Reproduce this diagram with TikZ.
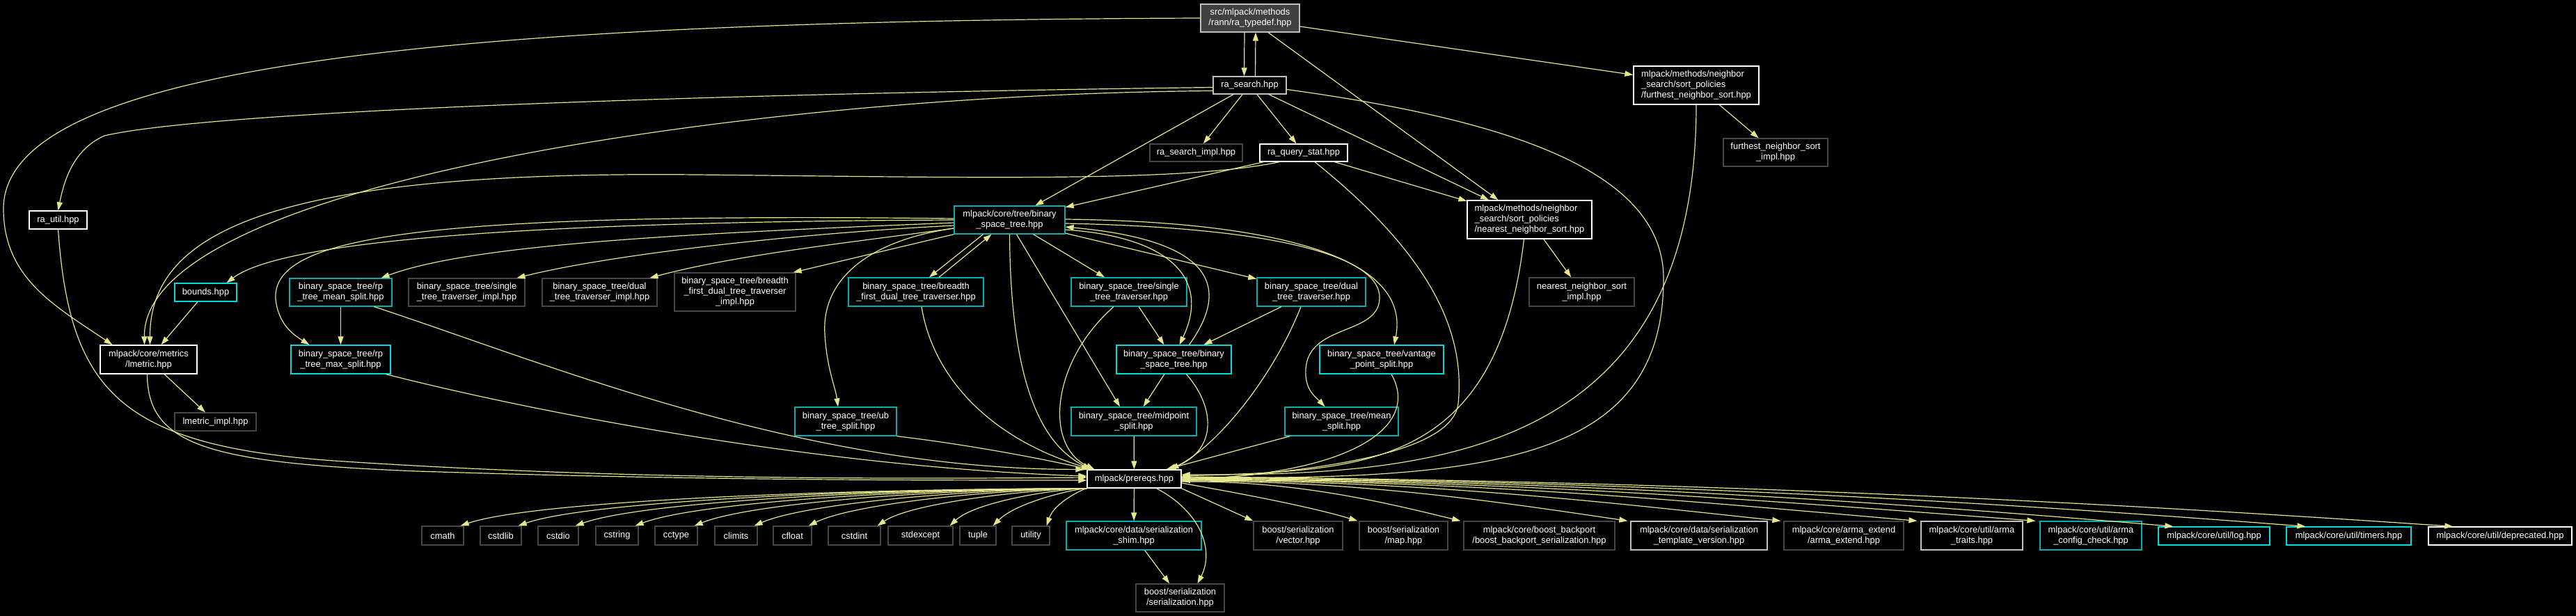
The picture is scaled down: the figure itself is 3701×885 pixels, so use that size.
\documentclass[tikz,border=0pt]{standalone}
\usepackage{fontspec}
\setmainfont{Liberation Sans}
\usepackage{tikz}
\usetikzlibrary{arrows.meta}
\definecolor{edgeyel}{RGB}{230,230,140}
\definecolor{rootgray}{RGB}{64,64,64}
\definecolor{lightedge}{RGB}{191,191,191}
\definecolor{sysgray}{RGB}{70,70,70}
\definecolor{tealedge}{RGB}{0,176,176}
\definecolor{cyanedge}{RGB}{0,220,220}
\newcommand\doxyfont{\fontsize{12.9}{15}\selectfont}
\tikzset{
  hdr/.style      = {draw, line width=1.3pt, fill=black, text=white, align=center, inner sep=0pt, font=\doxyfont},
  dochdr/.style   = {hdr, draw=white},
  lighthdr/.style = {hdr, draw=lightedge},
  syshdr/.style   = {hdr, draw=sysgray},
  tealhdr/.style  = {hdr, draw=tealedge},
  cyanhdr/.style  = {hdr, draw=cyanedge},
  roothdr/.style  = {hdr, draw=lightedge, fill=rootgray},
  sz/.style 2 args = {minimum width=#1pt, minimum height=#2pt},
  dep/.style      = {-{Triangle[length=12pt,width=8pt]}, line width=1.2pt, draw=edgeyel},
}

\begin{document}
\begin{tikzpicture}[x=1pt,y=-1pt]
  \fill[black] (0,0) rectangle (3701,885);
  \useasboundingbox (0,0) rectangle (3701,885);

  % top part
  \node[roothdr, sz={142}{40}] (typedef) at (1796,26) {src/mlpack/methods\\/rann/ra\_typedef.hpp};
  \node[lighthdr, sz={105}{25}] (rasearch) at (1795.5,122.5) {ra\_search.hpp};
  \node[dochdr, sz={180}{55}, align=left] (furthest) at (2437,122.5) {mlpack/methods/neighbor\\\_search/sort\_policies\\/furthest\_neighbor\_sort.hpp};
  \node[syshdr, sz={133}{25}] (rasearchimpl) at (1718.5,219.5) {ra\_search\_impl.hpp};
  \node[dochdr, sz={126}{25}] (raquerystat) at (1873,219.5) {ra\_query\_stat.hpp};
  \node[syshdr, sz={150}{40}] (furthestimpl) at (2551,219) {furthest\_neighbor\_sort\\\_impl.hpp};
  \node[dochdr, sz={83}{26}] (rautil) at (83.5,316) {ra\_util.hpp};
  \node[tealhdr, sz={159}{40}] (bst) at (1450.5,316) {mlpack/core/tree/binary\\\_space\_tree.hpp};
  \node[dochdr, sz={179}{55}, align=left] (nearest) at (2197.5,315.5) {mlpack/methods/neighbor\\\_search/sort\_policies\\/nearest\_neighbor\_sort.hpp};
  \node[syshdr, sz={151}{41}] (nearestimpl) at (2272.5,419.5) {nearest\_neighbor\_sort\\\_impl.hpp};

  % tree row
  \node[cyanhdr, sz={89}{26}] (bounds) at (295.5,420) {bounds.hpp};
  \node[tealhdr, sz={147}{40}] (rpmean) at (489.5,420) {binary\_space\_tree/rp\\\_tree\_mean\_split.hpp};
  \node[syshdr, sz={167}{40}] (stimpl) at (670.5,420) {binary\_space\_tree/single\\\_tree\_traverser\_impl.hpp};
  \node[syshdr, sz={165}{40}] (dtimpl) at (861.5,420) {binary\_space\_tree/dual\\\_tree\_traverser\_impl.hpp};
  \node[syshdr, sz={174}{55}] (bfimpl) at (1056,419.5) {binary\_space\_tree/breadth\\\_first\_dual\_tree\_traverser\\\_impl.hpp};
  \node[tealhdr, sz={194}{41}] (bft) at (1316,419.5) {binary\_space\_tree/breadth\\\_first\_dual\_tree\_traverser.hpp};
  \node[tealhdr, sz={166}{41}] (stt) at (1622,419.5) {binary\_space\_tree/single\\\_tree\_traverser.hpp};
  \node[tealhdr, sz={156}{41}] (dtt) at (1884,419.5) {binary\_space\_tree/dual\\\_tree\_traverser.hpp};
  \node[dochdr, sz={139}{41}] (lmetric) at (213.5,516.5) {mlpack/core/metrics\\/lmetric.hpp};
  \node[cyanhdr, sz={143}{41}] (rpmax) at (489.5,516.5) {binary\_space\_tree/rp\\\_tree\_max\_split.hpp};
  \node[cyanhdr, sz={165}{41}] (bstb) at (1686.5,516.5) {binary\_space\_tree/binary\\\_space\_tree.hpp};
  \node[cyanhdr, sz={178}{41}] (vps) at (1985,516.5) {binary\_space\_tree/vantage\\\_point\_split.hpp};
  \node[syshdr, sz={117}{26}] (lmimpl) at (309.5,606) {lmetric\_impl.hpp};
  \node[tealhdr, sz={146}{41}] (ubsplit) at (1215,605.5) {binary\_space\_tree/ub\\\_tree\_split.hpp};
  \node[tealhdr, sz={180}{41}] (midsplit) at (1629,605.5) {binary\_space\_tree/midpoint\\\_split.hpp};
  \node[tealhdr, sz={163}{41}] (meansplit) at (1927.5,605.5) {binary\_space\_tree/mean\\\_split.hpp};
  \node[dochdr, sz={135}{26}] (prereqs) at (1629.5,688) {mlpack/prereqs.hpp};

  % bottom row
  \foreach \n/\x/\w in {cmath/636/60, cstdlib/719.5/59, cstdio/802/58, cstring/886.5/61, cctype/971.5/61, climits/1057.5/61, cfloat/1138.5/55, cstdint/1227.5/75, stdexcept/1322.5/93, tuple/1405/52, utility/1481/54}
    \node[syshdr, sz={\w}{27}] (\n) at (\x,769.5) {\n};
  \node[tealhdr, sz={194}{41}] (shim) at (1629,769.5) {mlpack/core/data/serialization\\\_shim.hpp};
  \node[syshdr, sz={128}{41}] (bvector) at (1865,769.5) {boost/serialization\\/vector.hpp};
  \node[syshdr, sz={127}{40}] (bser) at (1695.5,859) {boost/serialization\\/serialization.hpp};
  \node[syshdr, sz={127}{41}] (bmap) at (2016.5,769.5) {boost/serialization\\/map.hpp};
  \node[syshdr, sz={217}{41}] (backport) at (2211.5,769.5) {mlpack/core/boost\_backport\\/boost\_backport\_serialization.hpp};
  \node[lighthdr, sz={196}{41}] (stversion) at (2441,769.5) {mlpack/core/data/serialization\\\_template\_version.hpp};
  \node[syshdr, sz={172}{41}] (armaext) at (2649,769.5) {mlpack/core/arma\_extend\\/arma\_extend.hpp};
  \node[lighthdr, sz={146}{41}] (armatraits) at (2833,769.5) {mlpack/core/util/arma\\\_traits.hpp};
  \node[tealhdr, sz={146}{41}] (armacfg) at (3004,769.5) {mlpack/core/util/arma\\\_config\_check.hpp};
  \node[cyanhdr, sz={160}{26}] (logh) at (3181,770) {mlpack/core/util/log.hpp};
  \node[cyanhdr, sz={179}{26}] (timers) at (3374.5,770) {mlpack/core/util/timers.hpp};
  \node[dochdr, sz={206}{26}] (deprecated) at (3592,770) {mlpack/core/util/deprecated.hpp};

  % ra_typedef.hpp
  \draw[dep] ([xshift=-8pt]typedef.south) -- ([xshift=-8pt]rasearch.north);
  \draw[dep] ([xshift=8pt]rasearch.north) -- ([xshift=8pt]typedef.south);
  \draw[dep] (typedef.west) .. controls (600,30) and (5,100) .. (5,300) .. controls (5,400) and (80,440) .. ([xshift=-52pt]lmetric.north);
  \draw[dep] ([yshift=-12pt]typedef.east) -- ([yshift=15pt]furthest.west);
  \draw[dep] ([xshift=26pt]typedef.south) -- ([xshift=-45pt]nearest.north);

  % ra_search.hpp
  \draw[dep] ([yshift=-3pt]rasearch.west) .. controls (1000,135) and (300,160) .. (150,195) .. controls (105,215) and (92,260) .. (rautil.north);
  \draw[dep] ([yshift=-8pt]rasearch.west) .. controls (1100,135) and (205,260) .. ([xshift=-6pt]lmetric.north);
  \draw[dep] (rasearch) -- (rasearchimpl);
  \draw[dep] (rasearch) -- (raquerystat);
  \draw[dep] (rasearch) -- (bst);
  \draw[dep] (rasearch) -- (nearest);
  \draw[dep] ([yshift=-6pt]rasearch.east) .. controls (2150,170) and (2390,240) .. (2390,400) .. controls (2390,660) and (2150,690) .. ([yshift=2pt]prereqs.east);

  % ra_query_stat.hpp
  \draw[dep] ([xshift=-35pt]raquerystat.south) .. controls (1700,262) and (1400,255) .. (1000,251) .. controls (400,245) and (215,330) .. ([xshift=2pt]lmetric.north);
  \draw[dep] (raquerystat) -- (bst);
  \draw[dep] (raquerystat) -- (nearest);
  \draw[dep] ([xshift=16pt]raquerystat.south) .. controls (2060,370) and (2105,480) .. (2095,580) .. controls (2085,660) and (1850,678) .. ([yshift=-3pt]prereqs.east);

  % sort policies
  \draw[dep] (nearest) -- (nearestimpl);
  \draw[dep] ([xshift=-8pt]nearest.south) .. controls (2150,680) and (1950,675) .. ([yshift=4pt]prereqs.east);
  \draw[dep] (furthest) -- (furthestimpl);
  \draw[dep] (furthest.south) .. controls (2437,660) and (2050,683) .. ([yshift=6pt]prereqs.east);

  % metrics
  \draw[dep] (bounds) -- (lmetric);
  \draw[dep] (lmetric) -- (lmimpl);
  \draw[dep] ([xshift=-2pt]lmetric.south) .. controls (212,640) and (300,665) .. (600,677) .. controls (1000,690) and (1300,690) .. ([yshift=-2pt]prereqs.west);
  \draw[dep] (rautil.south) .. controls (100,560) and (170,640) .. (480,662) .. controls (900,690) and (1300,688) .. ([yshift=2pt]prereqs.west);

  % binary_space_tree.hpp
  \draw[dep] (bst.west) .. controls (900,318) and (420,335) .. ([xshift=30pt]bounds.north);
  \draw[dep] ([yshift=-4pt]bst.west) .. controls (1000,335) and (680,350) .. ([xshift=58pt]rpmean.north);
  \draw[dep] ([yshift=-8pt]bst.west) .. controls (1150,335) and (880,365) .. ([xshift=72pt]stimpl.north);
  \draw[dep] ([yshift=-12pt]bst.west) .. controls (1250,345) and (1060,365) .. ([xshift=72pt]dtimpl.north);
  \draw[dep] (bst.south west) -- ([xshift=-4pt]bfimpl.north east);
  \draw[dep] ([xshift=-38pt]bst.south) -- ([xshift=19pt]bft.north);
  \draw[dep] ([xshift=33pt]bft.north) -- ([xshift=-26pt]bst.south);
  \draw[dep] ([yshift=2pt]bst.west) .. controls (600,305) and (390,340) .. (396,430) .. controls (400,465) and (420,480) .. ([xshift=-45pt]rpmax.north);
  \draw[dep] ([yshift=-12pt]bst.west) .. controls (1250,345) and (1180,400) .. (1185,480) .. controls (1188,530) and (1200,555) .. ([xshift=-11pt]ubsplit.north);
  \draw[dep] (bst) -- (stt);
  \draw[dep] (bst) -- (dtt);
  \draw[dep] ([yshift=-14pt]bst.east) .. controls (1680,340) and (1740,400) .. ([xshift=8pt]bstb.north);
  \draw[dep] ([xshift=22pt]bstb.north) .. controls (1770,410) and (1740,345) .. ([yshift=-10pt]bst.east);
  \draw[dep] ([yshift=1pt]bst.east) .. controls (1800,318) and (2030,360) .. ([xshift=18pt]vps.north);
  \draw[dep] ([yshift=-5pt]bst.east) .. controls (1880,328) and (2000,380) .. (1980,440) .. controls (1965,480) and (1880,470) .. (1876,530) .. controls (1874,560) and (1890,570) .. ([xshift=-24pt]meansplit.north);
  \draw[dep] ([xshift=10pt]bst.south) -- ([xshift=-20pt]midsplit.north);
  \draw[dep] (bst.south) .. controls (1452,560) and (1500,640) .. ([xshift=-62pt]prereqs.north);

  % traversers and splits
  \draw[dep] ([xshift=8pt]bft.south) .. controls (1340,540) and (1420,630) .. ([xshift=-60pt]prereqs.north);
  \draw[dep] (stt) -- (bstb);
  \draw[dep] ([xshift=-22pt]stt.south) .. controls (1510,520) and (1500,640) .. ([xshift=-57pt]prereqs.north);
  \draw[dep] (dtt) -- (bstb);
  \draw[dep] ([xshift=-15pt]dtt.south) .. controls (1830,540) and (1750,640) .. ([xshift=52pt]prereqs.north);
  \draw[dep] (bstb) -- (midsplit);
  \draw[dep] ([xshift=18pt]bstb.south) .. controls (1750,590) and (1745,650) .. ([xshift=48pt]prereqs.north);
  \draw[dep] (midsplit) -- (prereqs);
  \draw[dep] ([xshift=8pt]meansplit.south west) -- ([xshift=46pt]prereqs.north);
  \draw[dep] ([xshift=14pt]vps.south) .. controls (2040,610) and (1950,680) .. ([yshift=-1pt]prereqs.east);
  \draw[dep] (ubsplit.south east) .. controls (1400,640) and (1500,660) .. ([xshift=-64pt]prereqs.north);
  \draw[dep] (rpmean) -- (rpmax);
  \draw[dep] ([xshift=48pt]rpmean.south) .. controls (780,520) and (1150,675) .. ([xshift=-4pt]prereqs.north west);
  \draw[dep] ([xshift=65pt]rpmax.south) .. controls (800,600) and (1200,672) .. ([yshift=4pt]prereqs.west);

  % prereqs.hpp
  \foreach \t/\a/\b in {cmath/1150/760, cstdlib/1200/840, cstdio/1250/920, cstring/1300/1000, cctype/1350/1080, climits/1400/1160, cfloat/1440/1230, cstdint/1480/1310, stdexcept/1510/1400, tuple/1540/1460, utility/1555/1515}
    \draw[dep] (prereqs.south west) .. controls (\a,703) and (\b,722) .. ([xshift=-5pt]\t.north east);
  \draw[dep] (prereqs) -- (shim);
  \draw[dep] ([xshift=32pt]prereqs.south) .. controls (1725,735) and (1745,790) .. ([xshift=25pt]bser.north);
  \draw[dep] (shim) -- (bser);
  \draw[dep] (prereqs.south east) -- (bvector.north west);
  \draw[dep] ([yshift=-6pt]prereqs.east) .. controls (1800,712) and (1890,730) .. ([xshift=-2pt]bmap.north west);
  \foreach \t/\a/\b/\s/\y in {backport/1860/1990/-4/-4, stversion/1950/2160/-4/-3, armaext/2040/2310/-4/-2, armatraits/2120/2450/-5/-1, armacfg/2190/2570/-6/0, logh/2270/2720/22/1, timers/2350/2870/28/2, deprecated/2430/3020/36/3}
    \draw[dep] ([yshift=\y pt]prereqs.east) .. controls (\a,690) and (\b,722) .. ([xshift=\s pt]\t.north west);
\end{tikzpicture}
\end{document}
